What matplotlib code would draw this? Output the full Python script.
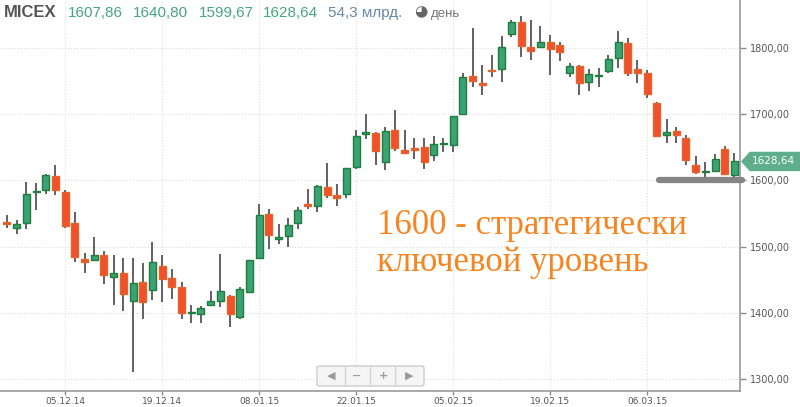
import matplotlib
matplotlib.use("Agg")
import matplotlib.pyplot as plt
from matplotlib.patches import FancyBboxPatch, Polygon

# daily MICEX candles, 27.11.14 .. 20.03.15
opens = [1537, 1528.5, 1535, 1582, 1585.5, 1606.5, 1583, 1535, 1481.5, 1480,
         1487.5, 1454, 1459.5, 1418, 1447, 1434, 1471.5, 1453, 1439, 1399.5,
         1398.5, 1411.5, 1417.5, 1425.5, 1394.5, 1431, 1483.5, 1549, 1512, 1516,
         1535, 1564.5, 1561, 1589.5, 1578.5, 1579, 1621, 1670.5, 1671.5, 1627.5,
         1675.5, 1646.5, 1649, 1650, 1638, 1654.5, 1653.5, 1701, 1758, 1747,
         1767, 1768.5, 1820.5, 1839, 1801, 1801, 1809.5, 1804, 1762, 1773,
         1749, 1757, 1766, 1785.5, 1807, 1768, 1762, 1717.5, 1668, 1674.5,
         1663.5, 1623.5, 1612, 1614, 1647, 1607.86]
highs = [1548, 1540, 1597.5, 1596.5, 1609.5, 1623, 1585.5, 1552, 1490.5, 1514,
         1493.5, 1488, 1483.5, 1483.5, 1475.5, 1506.5, 1487.5, 1466, 1446, 1411.5,
         1410, 1432.5, 1489, 1426.5, 1439, 1480, 1564, 1557, 1533.5, 1543,
         1560, 1586.5, 1593, 1626.5, 1594.5, 1618.5, 1675.5, 1700, 1673.5, 1681,
         1706.5, 1675.5, 1663.5, 1664, 1667, 1663.5, 1697.5, 1762.5, 1830, 1774,
         1789, 1818, 1842.5, 1848.5, 1842.5, 1833, 1820, 1808.5, 1777, 1774.5,
         1769, 1770, 1790, 1826, 1814.5, 1782, 1767, 1719, 1692.5, 1681,
         1668, 1636.5, 1628, 1639.5, 1652.5, 1640.80]
lows = [1528.5, 1518.5, 1526, 1556, 1579, 1578, 1528.5, 1476.5, 1459.5, 1478,
        1443, 1412.5, 1403, 1310.5, 1390, 1419, 1417, 1421, 1391, 1384,
        1384, 1410, 1409, 1378, 1391, 1430, 1482, 1497, 1504, 1500,
        1526, 1557, 1552, 1574, 1562, 1573, 1617.5, 1663, 1623, 1615.5,
        1645, 1640, 1632, 1617, 1630, 1643.5, 1643, 1698.5, 1741.5, 1729.5,
        1756.5, 1749, 1817, 1786, 1781.5, 1800.5, 1759, 1780.5, 1755.5, 1728.5,
        1735.5, 1740.5, 1762, 1770, 1757, 1747.5, 1724, 1665, 1656, 1657,
        1623, 1610, 1605.5, 1612, 1608, 1599.67]
closes = [1534, 1534, 1579, 1584.5, 1608, 1585.5, 1531.5, 1484, 1477, 1487.5,
          1456.5, 1459.5, 1428, 1444.5, 1416, 1477, 1450.5, 1438.5, 1400, 1401.5,
          1407.5, 1418, 1432.5, 1398, 1435.5, 1480, 1547.5, 1517, 1514, 1533,
          1555, 1562, 1591.5, 1578, 1574, 1618.5, 1666.5, 1672.5, 1644.5, 1674.5,
          1649.5, 1642, 1646.5, 1627.5, 1654.5, 1656.5, 1697.5, 1756, 1750, 1744.5,
          1765, 1802, 1839.5, 1802.5, 1796, 1809.5, 1799, 1794.5, 1772.5, 1747.5,
          1760, 1759, 1784, 1808.5, 1762, 1762.5, 1730, 1667.5, 1673, 1668,
          1631, 1612, 1614, 1632.5, 1610, 1628.64]

date_idx = [6, 16, 26, 36, 46, 56, 66]
date_labels = ["05.12.14", "19.12.14", "08.01.15", "22.01.15", "05.02.15", "19.02.15", "06.03.15"]
price_ticks = [1300, 1400, 1500, 1600, 1700, 1800]
header_vals = ["1607,86", "1640,80", "1599,67", "1628,64"]
last_price = 1628.64
level = 1600

W, H = 800, 407
fig = plt.figure(figsize=(W / 100, H / 100), dpi=100)
fig.patch.set_facecolor("white")


def fx(x):
    return x / W


def fy(y):
    return 1 - y / H


ax = fig.add_axes([0, fy(391), fx(740), 391 / H])
ax.set_xlim(-0.72, 75.57)
ax.set_ylim(1282, 1872.5)

green, green_edge = "#3aa273", "#1f7d3e"
red, red_edge = "#f2502a", "#e0652f"
for i in range(len(opens)):
    o, h, l, c = opens[i], highs[i], lows[i], closes[i]
    ax.vlines(i, l, h, color="#555555", lw=1.3, zorder=2)
    up = c >= o
    ax.bar(i, max(abs(c - o), 2.2), bottom=min(o, c), width=0.72,
           color=green if up else red, edgecolor=green_edge if up else red_edge,
           lw=1.0, zorder=3)

for spine in ["top", "left"]:
    ax.spines[spine].set_visible(False)
for spine in ["right", "bottom"]:
    ax.spines[spine].set_color("#9a9a9a")
    ax.spines[spine].set_linewidth(1.2)

ax.yaxis.tick_right()
ax.set_yticks(price_ticks)
ax.set_yticklabels([f"{p},00" for p in price_ticks])
ax.set_xticks(date_idx)
ax.set_xticklabels(date_labels)
ax.tick_params(axis="y", colors="#8a8a8a", labelcolor="#555555", length=4,
               width=1, labelsize=7, pad=3)
ax.tick_params(axis="x", colors="#8a8a8a", labelcolor="#555555", length=3,
               width=1, labelsize=6.5, pad=1)
ax.grid(True, color="#dddddd", lw=0.8, ls=":")
ax.set_axisbelow(True)

# key level marker
ax.plot([67.2, 75.8], [level, level], color="#858585", lw=4.5,
        solid_capstyle="round", clip_on=False, zorder=4)

# last price tag
ty = 48 + (1800 - last_price) * 0.662
tag = Polygon([(fx(742), fy(ty)), (fx(750), fy(ty - 9)), (fx(800), fy(ty - 9)),
               (fx(800), fy(ty + 9)), (fx(750), fy(ty + 9))],
              closed=True, transform=fig.transFigure, color="#5caf8a", zorder=5)
fig.patches.append(tag)
fig.text(fx(773), fy(ty), "1628,64", color="white", fontsize=7.5, ha="center",
         va="center", zorder=6)

# header
fig.text(fx(4), fy(17), "MICEX", family="Liberation Sans", weight="bold",
         fontsize=12, color="#555555", va="baseline")
for xp, v in zip([68, 133, 199, 263], header_vals):
    fig.text(fx(xp), fy(17), v, family="Liberation Sans", fontsize=11,
             color="#46a67d", va="baseline")
fig.text(fx(328), fy(17), "54,3 млрд.", family="Liberation Sans", fontsize=11,
         color="#6689a6", va="baseline")
fig.text(fx(421), fy(12), "◕", family="DejaVu Sans", fontsize=11,
         color="#666666", ha="center", va="center")
fig.text(fx(431), fy(17), "день", family="Liberation Sans", fontsize=9.5,
         color="#777777", va="baseline")

# annotation
fig.text(fx(377), fy(234), "1600 - стратегически", family="Liberation Serif",
         fontsize=25, color="#f7841f", va="baseline")
fig.text(fx(377), fy(271), "ключевой уровень", family="Liberation Serif",
         fontsize=25, color="#f7841f", va="baseline")

# navigation buttons
nav = FancyBboxPatch((fx(317), fy(386)), fx(107), 20 / H,
                     boxstyle="round,pad=0,rounding_size=0.004",
                     transform=fig.transFigure, facecolor="#f5f5f5",
                     edgecolor="#cccccc", lw=1)
fig.patches.append(nav)
for sx in [345, 370, 395]:
    fig.add_artist(plt.Line2D([fx(sx), fx(sx)], [fy(385), fy(367)],
                              color="#d5d5d5", lw=1))
for sx, s in zip([331, 357, 383, 409], ["◀", "−", "+", "▶"]):
    fig.text(fx(sx), fy(376), s, ha="center", va="center", fontsize=8,
             color="#9a9a9a", weight="bold")

fig.savefig("out.png", dpi=100)
